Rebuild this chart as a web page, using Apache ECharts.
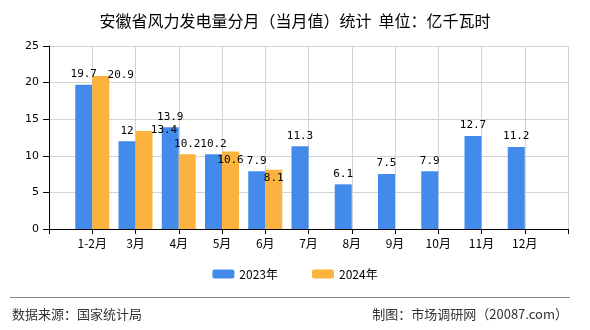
<!DOCTYPE html>
<html>
<head>
<meta charset="utf-8">
<script src="https://cdn.jsdelivr.net/npm/echarts@6/dist/echarts.min.js"></script>
<style>
html,body{margin:0;padding:0;background:#fff;}
#main{width:590px;height:330px;}
</style>
</head>
<body>
<div id="main"></div>
<script>
const categories = ['1-2月','3月','4月','5月','6月','7月','8月','9月','10月','11月','12月'];
const values2023 = [19.7, 12, 13.9, 10.2, 7.9, 11.3, 6.1, 7.5, 7.9, 12.7, 11.2];
const values2024 = [20.9, 13.4, 10.2, 10.6, 8.1];
const yTicks = [0, 5, 10, 15, 20, 25];
const seriesNames = ['2023年', '2024年'];

const chart = echarts.init(document.getElementById('main'));
const cjk = '"Noto Sans CJK SC", "Noto Sans", sans-serif';
const mono = '"DejaVu Sans Mono", "Liberation Mono", monospace';

// padded category axis: empty slots at both ends
const axisCats = [''].concat(categories, ['']);
const pad = arr => [null].concat(arr, new Array(axisCats.length - 1 - arr.length).fill(null));

// label placement tweaks for the 2024 series (mirrors the reference's layout)
const offs2024 = {0: [20, 10], 1: [20, 10], 3: [0, 19], 4: [0, 19]};
const data2024 = pad(values2024).map((v, i) => {
  if (v == null) return null;
  const o = offs2024[i - 1];
  return o ? {value: v, label: {offset: o}} : v;
});

chart.setOption({
  animation: false,
  title: {
    text: '安徽省风力发电量分月（当月值）统计  单位：亿千瓦时',
    left: 'center', top: 8,
    textStyle: {fontFamily: cjk, fontSize: 16, fontWeight: 'normal', color: '#000'}
  },
  legend: {
    data: seriesNames,
    bottom: 45, left: 'center',
    itemWidth: 22, itemHeight: 9, itemGap: 34,
    textStyle: {fontFamily: cjk, fontSize: 12, color: '#000'}
  },
  grid: {left: 49, right: 22, top: 46, bottom: 101},
  xAxis: {
    type: 'category',
    data: axisCats,
    boundaryGap: false,
    axisLine: {lineStyle: {color: '#000'}},
    axisTick: {show: true, length: 5, interval: 0, lineStyle: {color: '#000'}},
    axisLabel: {interval: 0, margin: 8, fontFamily: cjk, fontSize: 12, color: '#000'},
    splitLine: {show: true, interval: 0, lineStyle: {color: '#d3d3d3'}}
  },
  yAxis: {
    type: 'value',
    min: yTicks[0], max: yTicks[yTicks.length - 1], interval: 5,
    axisLine: {show: true, lineStyle: {color: '#000'}},
    axisTick: {show: true, length: 6, lineStyle: {color: '#000'}},
    axisLabel: {margin: 10, fontFamily: '"DejaVu Sans", sans-serif', fontSize: 11, color: '#000'},
    splitLine: {show: true, lineStyle: {color: '#d3d3d3'}}
  },
  series: [
    {
      name: seriesNames[0], type: 'bar',
      data: pad(values2023),
      barWidth: 17, barGap: '0%',
      itemStyle: {color: '#428BEB'},
      label: {show: true, position: 'top', distance: 5, fontFamily: mono, fontSize: 11, color: '#000'}
    },
    {
      name: seriesNames[1], type: 'bar',
      data: data2024,
      barWidth: 17, barGap: '0%',
      itemStyle: {color: '#FCB23F'},
      label: {show: true, position: 'top', distance: 5, fontFamily: mono, fontSize: 11, color: '#000'}
    }
  ],
  graphic: [
    {type: 'line', shape: {x1: 10, y1: 297.5, x2: 570, y2: 297.5}, style: {stroke: '#888', lineWidth: 1}},
    {type: 'text', left: 12, top: 308, style: {text: '数据来源：国家统计局', font: '13px ' + cjk, fill: '#333'}},
    {type: 'text', right: 22, top: 308, style: {text: '制图：市场调研网（20087.com）', font: '13px ' + cjk, fill: '#333'}}
  ]
});
</script>
</body>
</html>
